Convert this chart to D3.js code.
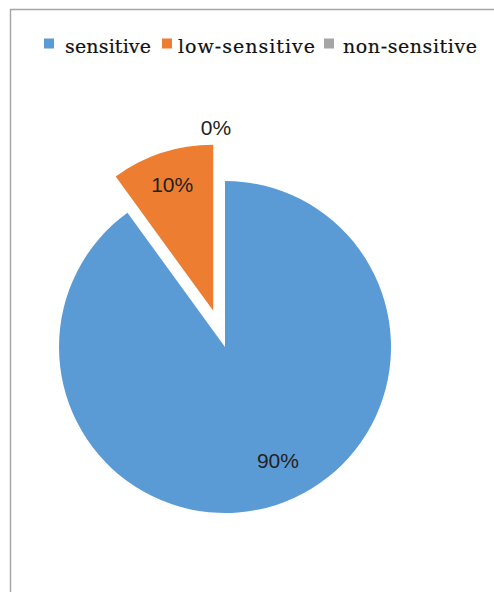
<!DOCTYPE html>
<html>
<head>
<meta charset="utf-8">
<script src="https://cdn.jsdelivr.net/npm/d3@7"></script>
<style>
  html, body { margin: 0; padding: 0; background: #fff; }
  svg { display: block; }
</style>
</head>
<body>
<svg id="chart" width="494" height="592"></svg>
<script>
// ---- data ----
const categories = ["sensitive", "low-sensitive", "non-sensitive"];
const values = [90, 10, 0];
const labels = ["90%", "10%", "0%"];
const colors = ["#5B9BD5", "#ED7D31", "#A5A5A5"];
const explode = [0, 38, 0];

const svg = d3.select("#chart");

// outer frame (only left & top visible in reference)
svg.append("rect")
  .attr("x", 10.5).attr("y", 9.5)
  .attr("width", 600).attr("height", 700)
  .attr("fill", "none").attr("stroke", "#a6a6a6").attr("stroke-width", 1.5);

// ---- legend ----
const legendX = [44, 162, 324];
const legendTextX = [65, 178, 343];
const legendTextW = [86, 137, 134];
const legend = svg.append("g");
categories.forEach((c, i) => {
  legend.append("rect")
    .attr("x", legendX[i]).attr("y", 38.5)
    .attr("width", 10).attr("height", 10)
    .attr("fill", colors[i]);
  legend.append("text")
    .attr("x", legendTextX[i]).attr("y", 53)
    .style("font-family", "'DejaVu Serif', 'Liberation Serif', serif")
    .style("font-size", "19px")
    .attr("fill", "#111")
    .attr("stroke", "#111").attr("stroke-width", 0.2)
    .attr("textLength", legendTextW[i])
    .attr("lengthAdjust", "spacing")
    .text(c);
});

// ---- pie ----
const cx = 225, cy = 347, R = 166;
const pie = d3.pie().sort(null).value(d => d.v).startAngle(0).endAngle(2 * Math.PI);
const arcs = pie(values.map((v, i) => ({ v, i })));
const arc = d3.arc().innerRadius(0).outerRadius(R);

const g = svg.append("g").attr("transform", `translate(${cx},${cy})`);

function offset(d, dist) {
  const a = (d.startAngle + d.endAngle) / 2;
  return [dist * Math.sin(a), -dist * Math.cos(a)];
}

g.selectAll("path.slice")
  .data(arcs)
  .join("path")
  .attr("class", "slice")
  .attr("d", arc)
  .attr("fill", d => colors[d.data.i])
  .attr("transform", d => {
    const [dx, dy] = offset(d, explode[d.data.i]);
    return `translate(${dx},${dy})`;
  });

// ---- labels ----
const labelRadius = [126, 133, 220];
const labelShift = [[14, -6], [0, 0], [-9, 0]];
g.selectAll("text.lbl")
  .data(arcs)
  .join("text")
  .attr("class", "lbl")
  .attr("x", d => {
    const [ex] = offset(d, explode[d.data.i]);
    const [lx] = offset(d, labelRadius[d.data.i]);
    return ex + lx + labelShift[d.data.i][0];
  })
  .attr("y", d => {
    const [, ey] = offset(d, explode[d.data.i]);
    const [, ly] = offset(d, labelRadius[d.data.i]);
    return ey + ly + labelShift[d.data.i][1];
  })
  .attr("text-anchor", "middle")
  .attr("dominant-baseline", "central")
  .style("font-family", "'Liberation Sans', Arial, sans-serif")
  .style("font-size", "21px")
  .attr("fill", "#222")
  .text(d => labels[d.data.i]);
</script>
</body>
</html>
